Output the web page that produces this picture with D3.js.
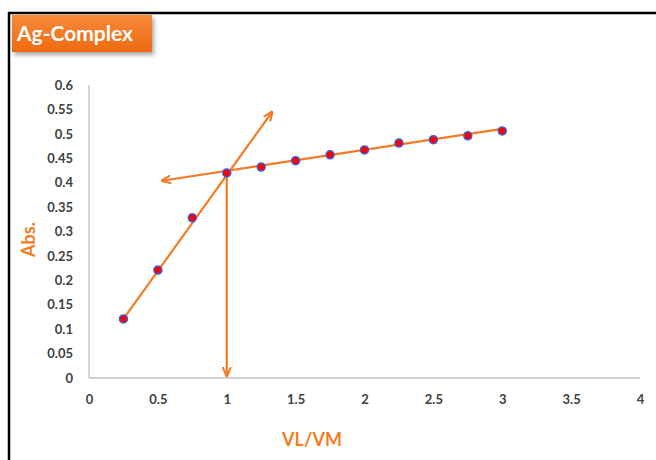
<!DOCTYPE html>
<head>
<meta charset="utf-8">
<script src="https://d3js.org/d3.v7.min.js"></script>
<style>
body{ margin:0; background:#fff; }
text{ font-family: Lato, "Open Sans", sans-serif; }
.tick text{ font-size:13px; font-weight:700; fill:#404040; }
.tick line{ display:none; }
path.domain{ stroke:#bfbfbf; stroke-width:1.3; }
text.axTitle{ font-size:18px; font-weight:700; fill:#F47B24; }
text.title{ font-size:21px; font-weight:700; fill:#fff; }
</style>
<title>Ag-Complex</title>
</head>
<body>
<script>
const width = 656, height = 460;

// mole ratio VL/VM and absorbance
const ratio = [0.25, 0.5, 0.75, 1, 1.25, 1.5, 1.75, 2, 2.25, 2.5, 2.75, 3];
const absVal = [0.121, 0.221, 0.328, 0.420, 0.432, 0.445, 0.457, 0.467, 0.481, 0.488, 0.496, 0.506];
const xTicks = [0, 0.5, 1, 1.5, 2, 2.5, 3, 3.5, 4];
const yTicks = [0, 0.05, 0.1, 0.15, 0.2, 0.25, 0.3, 0.35, 0.4, 0.45, 0.5, 0.55, 0.6];

// tangent lines drawn on the chart (data units), arrow at the end point
const rising  = [[0.25, 0.121], [1.33, 0.545]];
const flat    = [[3, 0.51], [0.53, 0.404]];
const drop    = [[1.0, 0.42], [1.0, 0.004]];

const orange = '#F47B24';

const svg = d3.select('body').append('svg')
   .attr('width', width)
   .attr('height', height);

const defs = svg.append('defs');
defs.append('marker')
   .attr('id', 'arr')
   .attr('viewBox', '0 0 10 10')
   .attr('refX', 9).attr('refY', 5)
   .attr('markerWidth', 10).attr('markerHeight', 10)
   .attr('markerUnits', 'userSpaceOnUse')
   .attr('orient', 'auto')
   .append('path')
   .attr('d', 'M0,1 L10,5 L0,9')
   .attr('fill', 'none')
   .attr('stroke', orange)
   .attr('stroke-width', 2);

const sh = defs.append('filter').attr('id', 'shadow')
   .attr('x', '-10%').attr('y', '-20%').attr('width', '130%').attr('height', '160%');
sh.append('feDropShadow').attr('dx', 2).attr('dy', 3).attr('stdDeviation', 2)
   .attr('flood-color', '#000').attr('flood-opacity', 0.35);

const grad = defs.append('linearGradient').attr('id', 'tg')
   .attr('x1', 0).attr('y1', 0).attr('x2', 0).attr('y2', 1);
grad.append('stop').attr('offset', 0).attr('stop-color', '#F8893A');
grad.append('stop').attr('offset', 1).attr('stop-color', '#EE6A10');

// frame lines (top and left)
svg.append('line').attr('x1', 8).attr('x2', width).attr('y1', 13).attr('y2', 13)
   .attr('stroke', '#000').attr('stroke-width', 2.5);
svg.append('line').attr('x1', 9).attr('x2', 9).attr('y1', 12).attr('y2', height)
   .attr('stroke', '#000').attr('stroke-width', 2.5);

// title box
svg.append('rect').attr('x', 12).attr('y', 15).attr('width', 140).attr('height', 37)
   .attr('fill', 'url(#tg)').attr('filter', 'url(#shadow)');
svg.append('text').attr('class', 'title').attr('x', 17).attr('y', 41).text('Ag-Complex');

const x = d3.scaleLinear().domain([0, 4]).range([89, 640]);
const y = d3.scaleLinear().domain([0, 0.6]).range([378, 85]);

svg.append('g')
   .attr('transform', `translate(0,${y(0)})`)
   .call(d3.axisBottom(x).tickValues(xTicks).tickSize(0).tickPadding(17).tickFormat(d3.format('')))
   .call(g => g.select('.domain').attr('d', `M${x(0)},0H${x(4)}`));

svg.append('g')
   .attr('transform', `translate(${x(0)},0)`)
   .call(d3.axisLeft(y).tickValues(yTicks).tickSize(0).tickPadding(16).tickFormat(d3.format('')))
   .call(g => g.select('.domain').attr('d', `M0,${y(0.6)}V${y(0)}`));

svg.append('text').attr('class', 'axTitle')
   .attr('transform', `translate(35,${y(0.3) + 8}) rotate(-90)`)
   .attr('text-anchor', 'middle')
   .text('Abs.');

svg.append('text').attr('class', 'axTitle')
   .attr('x', 312).attr('y', 446)
   .attr('text-anchor', 'middle')
   .text('VL/VM');

const line = d3.line().x(d => x(d[0])).y(d => y(d[1]));

[rising, flat, drop].forEach(seg => {
   svg.append('path')
      .attr('d', line(seg))
      .attr('fill', 'none')
      .attr('stroke', orange)
      .attr('stroke-width', 2.2)
      .attr('marker-end', 'url(#arr)');
});

svg.selectAll('circle.pt')
   .data(ratio.map((r, i) => [r, absVal[i]]))
   .enter()
   .append('circle')
   .attr('class', 'pt')
   .attr('cx', d => x(d[0]))
   .attr('cy', d => y(d[1]))
   .attr('r', 4)
   .attr('fill', '#FF0000')
   .attr('stroke', '#3A5FE0')
   .attr('stroke-width', 1.5);
</script>
</body>
